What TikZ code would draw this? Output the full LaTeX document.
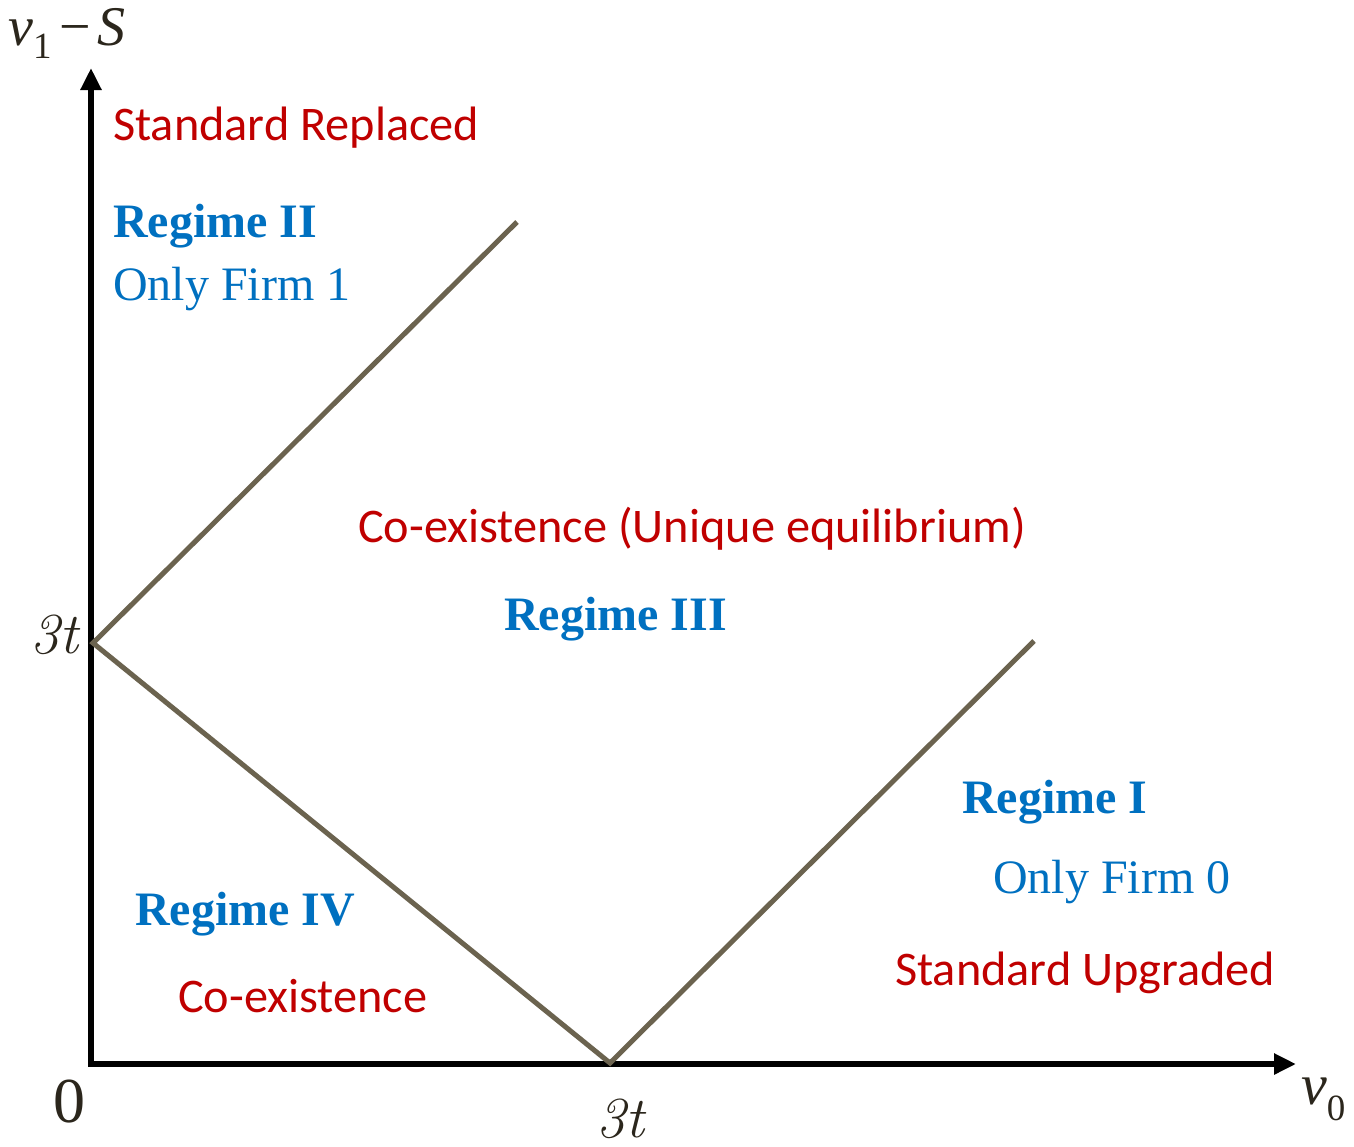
\documentclass[tikz,border=0pt]{standalone}
\usepackage{fontspec}
\usepackage{xcolor}
\usetikzlibrary{arrows.meta}
\newfontfamily\tnr{Liberation Serif}
\newfontfamily\calfont{Carlito}
\definecolor{clrRed}{HTML}{C00000}
\definecolor{clrBlue}{HTML}{0070C0}
\definecolor{clrLine}{HTML}{6B634F}
\definecolor{clrTick}{HTML}{2B261C}

\begin{document}
\begin{tikzpicture}[
    x=1pt, y=-1pt,
    axis/.style={line width=6pt, black, line join=miter, {Triangle[length=22pt, width=20pt]}-{Triangle[length=22pt, width=20pt]}},
    boundary/.style={line width=5pt, clrLine},
    regime/.style={font=\tnr\bfseries\fontsize{48}{52}\selectfont, text=clrBlue, anchor=base west, inner sep=0pt},
    firm/.style={font=\tnr\fontsize{48}{52}\selectfont, text=clrBlue, anchor=base west, inner sep=0pt},
    outcome/.style={font=\calfont\fontsize{48.3}{52}\selectfont, text=clrRed, anchor=base west, inner sep=0pt},
    tick/.style={font=\fontsize{58}{60}\selectfont\itshape, text=clrTick, inner sep=0pt},
]
\useasboundingbox (0,0) rectangle (1354,1146);

% Axes
\coordinate (origin) at (91,1064);
\coordinate (ytip) at (91,68);
\coordinate (xtip) at (1296,1064);
\draw[axis] (ytip) -- (origin) -- (xtip);

% Regime boundaries
\coordinate (kinkv) at (93,643);
\coordinate (kinkh) at (610,1063);
\coordinate (upperend) at (517,222);
\coordinate (rightend) at (1034,641);
\draw[boundary] (upperend) -- (kinkv) -- (kinkh) -- (rightend);

% Axis labels
\node[anchor=base west, inner sep=0pt, text=clrTick, font=\tnr\fontsize{56}{60}\selectfont] (ylab) at (8,45)
    {\itshape v\upshape\raisebox{-13pt}{\fontsize{37}{40}\selectfont 1}\hspace{8pt}−\hspace{6pt}\itshape S};
\node[anchor=base west, inner sep=0pt, text=clrTick, font=\tnr\fontsize{58}{60}\selectfont] (xlab) at (1301,1104)
    {\itshape v\upshape\raisebox{-16pt}{\fontsize{37}{40}\selectfont 0}};
\node[tick, anchor=base east] (ytick) at (79,653) {3t};
\node[tick, anchor=base] (xtick) at (620,1137) {3t};
\node[anchor=base, inner sep=0pt, text=clrTick, font=\tnr\fontsize{64}{66}\selectfont] (zero) at (69,1122) {0};

% Regime II
\node[outcome] (stdrep) at (113,140) {Standard Replaced};
\node[regime] (reg2) at (113,237) {Regime II};
\node[firm] (firm1) at (113,300) {Only Firm 1};

% Regime III
\node[outcome] (coexu) at (358,542) {Co-existence (Unique equilibrium)};
\node[regime] (reg3) at (504,630) {Regime III};

% Regime I
\node[regime] (reg1) at (962,813) {Regime I};
\node[firm] (firm0) at (993,893) {Only Firm 0};
\node[outcome] (stdupg) at (895,985) {Standard Upgraded};

% Regime IV
\node[regime] (reg4) at (135,925) {Regime IV};
\node[outcome] (coex) at (178,1012) {Co-existence};

\end{tikzpicture}
\end{document}
